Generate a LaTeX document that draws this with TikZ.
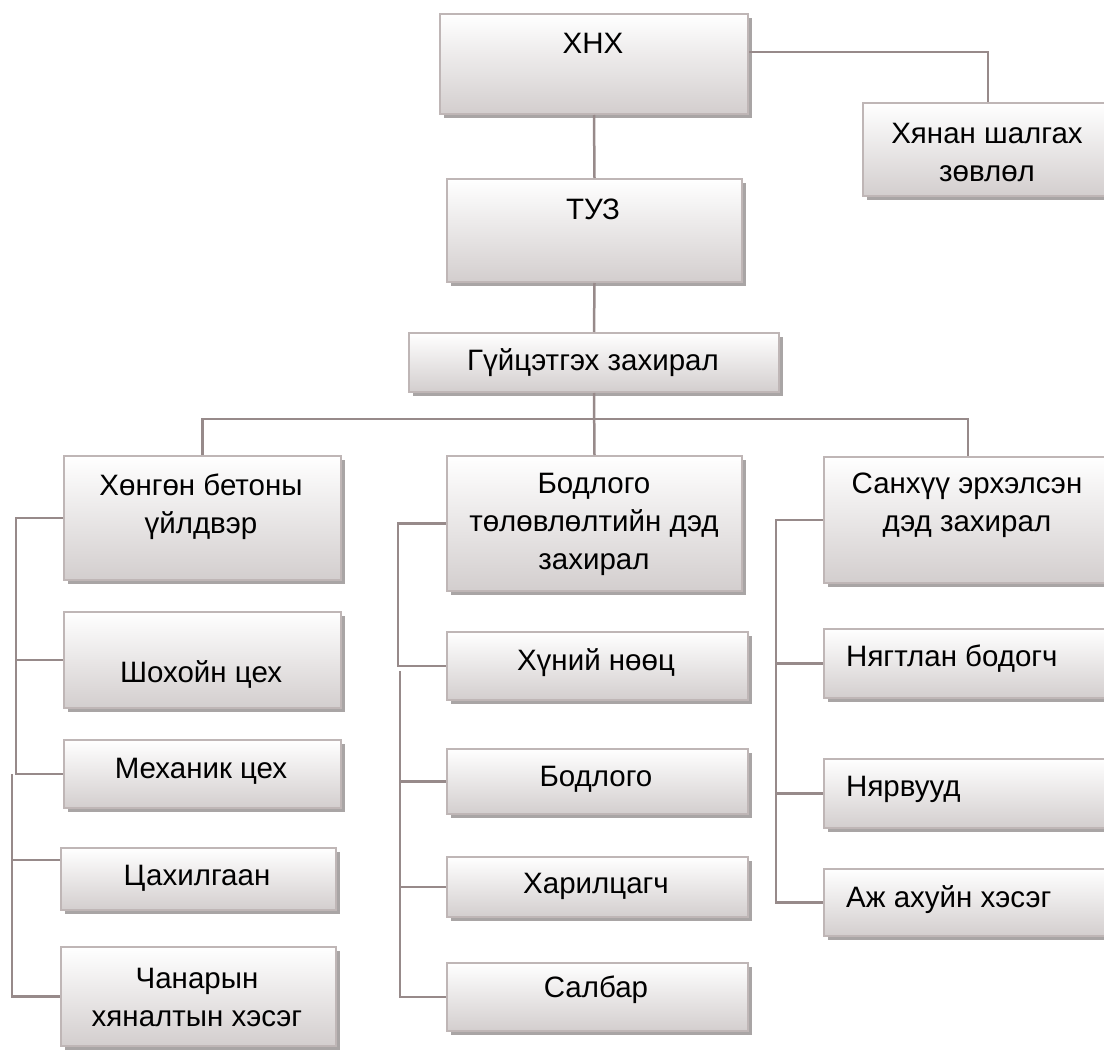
\documentclass[tikz,border=0pt]{standalone}
\usepackage{fontspec}
\setmainfont{Liberation Sans}
\usetikzlibrary{shadows}
\definecolor{boxline}{HTML}{BFB6B6}
\definecolor{boxgray}{HTML}{D3CECE}
\definecolor{shadowgray}{HTML}{A9A5A5}
\definecolor{linec}{HTML}{978A8A}
\tikzset{
  box/.style={rectangle, draw=boxline, line width=2pt, top color=white, bottom color=boxgray,
    drop shadow={shadow xshift=3.5pt, shadow yshift=-3.5pt, fill=shadowgray, opacity=1}},
  lbl/.style={align=center, inner sep=0pt, font=\fontsize{29.5}{38}\selectfont},
  conn/.style={draw=linec, line width=2.5pt}
}
\newcommand{\orgbox}[5]{% name, x1, y1, x2, y2
\node[box, anchor=north west, minimum width=#4-#2, minimum height=#5-#3] (#1) at (#2,#3) {};}
\begin{document}
\begin{tikzpicture}[x=1pt,y=-1pt]
\clip (0,0) rectangle (1104,1052);
% top levels
\orgbox{khx}{439}{13}{747}{113}
\orgbox{hyanan}{862}{102}{1112}{195}
\orgbox{tuz}{446}{178}{741}{281}
\orgbox{gui}{408}{332}{778}{391}
\node[lbl] (khx-t) at (593,43) {ХНХ};
\node[lbl] (hyanan-t) at (987,152) {Хянан шалгах\\зөвлөл};
\node[lbl] (tuz-t) at (593,209) {ТУЗ};
\node[lbl] (gui-t) at (593,363) {Гүйцэтгэх захирал};
% column 1
\orgbox{khongon}{63}{455}{340}{579}
\orgbox{shokhoi}{63}{611}{340}{707}
\orgbox{mekh}{63}{739}{340}{807}
\orgbox{tsakh}{60}{847}{335}{909}
\orgbox{chanar}{60}{946}{335}{1045}
\node[lbl] (khongon-t) at (201,507) {Хөнгөн бетоны\\үйлдвэр};
\node[lbl] (shokhoi-t) at (201,674) {Шохойн цех};
\node[lbl] (mekh-t) at (201,771) {Механик цех};
\node[lbl] (tsakh-t) at (197,878) {Цахилгаан};
\node[lbl] (chanar-t) at (197,997) {Чанарын\\хяналтын хэсэг};
% column 2
\orgbox{bodlogo}{446}{455}{741}{590}
\orgbox{hun}{446}{631}{747}{699}
\orgbox{bod}{446}{748}{747}{813}
\orgbox{har}{446}{856}{747}{916}
\orgbox{sal}{446}{962}{747}{1030}
\node[lbl] (bodlogo-t) at (594,524) {Бодлого\\төлөвлөлтийн дэд\\захирал};
\node[lbl] (hun-t) at (596,663) {Хүний нөөц};
\node[lbl] (bod-t) at (596,779) {Бодлого};
\node[lbl] (har-t) at (596,886) {Харилцагч};
\node[lbl] (sal-t) at (596,990) {Салбар};
% column 3
\orgbox{sanh}{823}{456}{1111}{582}
\orgbox{nyag}{823}{628}{1111}{697}
\orgbox{nyar}{823}{758}{1111}{827}
\orgbox{azh}{823}{868}{1111}{935}
\node[lbl] (sanh-t) at (967,505) {Санхүү эрхэлсэн\\дэд захирал};
\node[lbl, anchor=west] (nyag-t) at (846,659) {Нягтлан бодогч};
\node[lbl, anchor=west] (nyar-t) at (846,789) {Нярвууд};
\node[lbl, anchor=west] (azh-t) at (846,900) {Аж ахуйн хэсэг};
% connectors
\draw[conn] ([yshift=12pt]khx.east) -| (hyanan.north);
\draw[conn] (khx.south) -- (tuz.north);
\draw[conn] (tuz.south) -- (gui.north);
\draw[conn] (gui.south) -- (bodlogo.north);
\draw[conn] (khongon.north) -- ++(0,-36) -| (sanh.north);
\draw[conn] (khongon.west) -- ++(-47,0) |- (mekh.west);
\draw[conn] (shokhoi.west) -- ++(-47,0);
\draw[conn] ([xshift=-51pt]mekh.west) |- (chanar.west);
\draw[conn] ([yshift=19pt]tsakh.west) -- ++(-48,0);
\draw[conn] (bodlogo.west) -- ++(-48,0) |- (hun.west);
\draw[conn] ([shift={(-46pt,-5pt)}]hun.west) |- (sal.west);
\foreach \n in {bod,har} % middle branches
  \draw[conn] (\n.west) -- ++(-46,0);
\draw[conn] (sanh.west) -- ++(-47,0) |- (azh.west);
\foreach \n in {nyag,nyar}
  \draw[conn] (\n.west) -- ++(-47,0);
\end{tikzpicture}
\end{document}
